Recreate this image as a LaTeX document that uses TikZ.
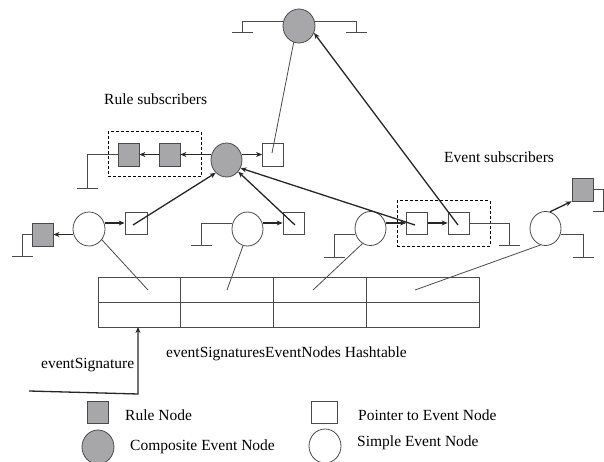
\documentclass[tikz,border=0pt]{standalone}
\usepackage{fontspec}
\setmainfont{Liberation Serif}
\usetikzlibrary{shapes.geometric,arrows.meta,calc}
\definecolor{ngray}{HTML}{A7A7A9}
\definecolor{lgray}{HTML}{4A4A4A}
\begin{document}
\begin{tikzpicture}[x=1pt,y=-1pt,
 ln/.style={draw=lgray,line width=0.8pt},
 arr/.style={draw=black!85,line width=1.3pt,-{Stealth[length=6pt,width=5pt]}},
 rulenode/.style={rectangle,draw=lgray,fill=ngray,line width=0.8pt,minimum width=21pt,minimum height=23pt,inner sep=0pt},
 ptrnode/.style={rectangle,draw=lgray,fill=white,line width=0.8pt,minimum width=21pt,minimum height=22pt,inner sep=0pt},
 compnode/.style={ellipse,draw=lgray,fill=ngray,line width=0.8pt,minimum width=31pt,minimum height=34pt,inner sep=0pt},
 simplenode/.style={ellipse,draw=lgray,fill=white,line width=0.8pt,minimum width=31pt,minimum height=34pt,inner sep=0pt},
 grp/.style={rectangle,draw=black,line width=1pt,dash pattern=on 3pt off 2pt,inner sep=0pt,minimum width=93pt,minimum height=45pt},
 lbl/.style={anchor=base west,inner sep=0pt,font=\fontsize{15.5}{18}\selectfont}]
\useasboundingbox (0,0) rectangle (604,462);

% groups
\node[grp] (RG) at (154.5,154.5) {};
\node[grp] (EG) at (443.5,223.5) {};

% nodes
\node[compnode,minimum width=32pt] (C0) at (299,26) {};
\node[compnode] (C1) at (226.5,160) {};
\node[rulenode] (R1) at (128.5,154.5) {};
\node[rulenode] (R2) at (169.5,154.5) {};
\node[ptrnode,minimum height=23pt] (P0) at (273,154.5) {};
\node[simplenode,minimum width=32pt] (S1) at (89,229) {};
\node[simplenode] (S2) at (247.5,229) {};
\node[simplenode] (S3) at (370.5,228.5) {};
\node[simplenode] (S4) at (545.5,228.5) {};
\node[ptrnode,minimum width=22pt] (P1) at (136,223) {};
\node[ptrnode] (P2) at (293.5,223) {};
\node[ptrnode] (P3) at (417,223) {};
\node[ptrnode] (P4) at (458.5,223) {};
\node[rulenode] (R3) at (42.5,234.5) {};
\node[rulenode] (R4) at (582.5,189.5) {};

% hashtable
\node[rectangle,draw=lgray,line width=0.8pt,minimum width=381pt,minimum height=50pt,inner sep=0pt] (HT) at (288.5,302) {};
\draw[ln] (HT.west) -- (HT.east);
\draw[ln] (180,277) -- (180,327);
\draw[ln] (273,277) -- (273,327);
\draw[ln] (366,277) -- (366,327);
\coordinate (h1) at (148,290);
\coordinate (h2) at (227,290);
\coordinate (h3) at (313,290);
\coordinate (h4) at (415,290);
\coordinate (es0) at (29,391);
\coordinate (es1) at (138,394);
\coordinate (hb) at (138,327);

% grounds
\draw[ln] (C0.165) -| (242,32) ++(-10.5,0) -- ++(21,0);
\draw[ln] (C0.15) -| (356,32) ++(-10.5,0) -- ++(21,0);
\draw[ln] (R1.west) -| (87,188) ++(-10.5,0) -- ++(21,0);
\draw[ln] (R3.west) -| (22,256) ++(-10.5,0) -- ++(21,0);
\draw[ln] (S2.160) -| (201,245) ++(-10.5,0) -- ++(21,0);
\draw[ln] (S3.200) -| (334,257) ++(-10.5,0) -- ++(21,0);
\draw[ln] (P4.east) -| (509,245) ++(-10.5,0) -- ++(21,0);
\draw[ln] (S4.-20) -| (583,257) ++(-10.5,0) -- ++(21,0);
\draw[ln] (R4.east) -| (603,211) ++(-10.5,0) -- ++(21,0);

% short arrows
\draw[arr] (C1.west |- R2.east) -- (R2.east);
\draw[arr] (R2.west) -- (R1.east);
\draw[arr] (C1.east |- P0.west) -- (P0.west);
\draw[arr] (S1.east |- P1.west) -- (P1.west);
\draw[arr] (S1.west |- R3.east) -- (R3.east);
\draw[arr] (S2.east |- P2.west) -- (P2.west);
\draw[arr] (S3.east |- P3.west) -- (P3.west);
\draw[arr] (P3.east) -- (P4.west);
\draw[arr] (S4.75) -- (R4.south west);

% pointer lines
\draw[arr] ([shift={(-3,2)}]P1.center) -- (C1.-130);
\draw[arr] ([shift={(1.5,2)}]P2.center) -- (C1.-45);
\draw[arr] ([shift={(-2,2)}]P3.center) -- (C1.-30);
\draw[arr] ([shift={(-0.5,2)}]P4.center) -- (C0.-25);
\draw[ln] ([shift={(-1,-1.5)}]P0.center) -- (C0.-108);

% hashtable links
\draw[ln] (S1.-40) -- (h1);
\draw[ln] (S2.-105) -- (h2);
\draw[ln] (S3.-118) -- (h3);
\draw[ln] (S4.-107) -- (h4);
\draw[arr] (es0) -- (es1) -- (hb);

% labels
\node[lbl] (t1) at (104,105) {Rule subscribers};
\node[lbl] (t2) at (444,163) {Event subscribers};
\node[lbl] (t3) at (166,357) {eventSignaturesEventNodes Hashtable};
\node[lbl] (t4) at (41,368) {eventSignature};

% legend
\node[rulenode,minimum height=22pt] (L1) at (97.5,412) {};
\node[lbl] (L1t) at (125,420) {Rule Node};
\node[compnode,minimum width=32pt] (L2) at (98,447) {};
\node[lbl] (L2t) at (130,450) {Composite Event Node};
\node[ptrnode,minimum width=26pt] (L3) at (324,412) {};
\node[lbl] (L3t) at (358,420) {Pointer to Event Node};
\node[simplenode,minimum width=32pt] (L4) at (325,446) {};
\node[lbl] (L4t) at (357,446.5) {Simple Event Node};
\end{tikzpicture}
\end{document}
